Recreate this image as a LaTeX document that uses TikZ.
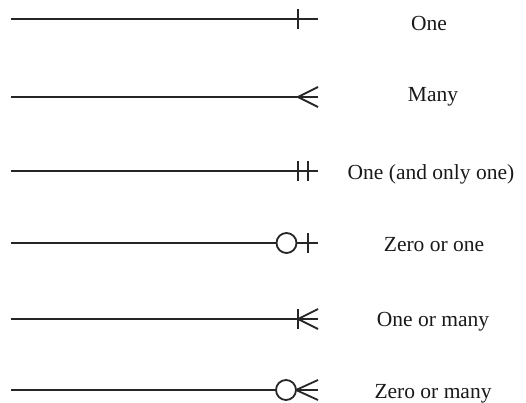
\documentclass[tikz,border=0pt]{standalone}
\usepackage{fontspec}
\setmainfont{Liberation Serif}
\begin{document}
\begin{tikzpicture}[x=1pt,y=-1pt,
  link/.style={line width=1.8pt, color=black!85},
  ring/.style={link, fill=white},
  label/.style={font=\fontsize{21.5}{26}\selectfont, anchor=base, text=black!90, inner sep=0pt}]
\useasboundingbox (0,0) rectangle (526,403);

% One
\coordinate (a1) at (11,19);   \coordinate (b1) at (318,19);
\draw[link] (a1) -- (b1);
\draw[link] ([shift={(-20,-10)}]b1) -- ([shift={(-20,10)}]b1);
\node[label] (t1) at (429,31) {One};

% Many
\coordinate (a2) at (11,97); \coordinate (b2) at (318,97);
\draw[link] (a2) -- (b2);
\draw[link] ([shift={(0,-10)}]b2) -- ([shift={(-20,0)}]b2) -- ([shift={(0,10)}]b2);
\node[label] (t2) at (433,102) {Many};

% One (and only one)
\coordinate (a3) at (11,171);  \coordinate (b3) at (318,171);
\draw[link] (a3) -- (b3);
\draw[link] ([shift={(-20,-10)}]b3) -- ([shift={(-20,10)}]b3);
\draw[link] ([shift={(-10,-10)}]b3) -- ([shift={(-10,10)}]b3);
\node[label] (t3) at (431,179) {One (and only one)};

% Zero or one
\coordinate (a4) at (11,243);  \coordinate (b4) at (318,243);
\draw[link] (a4) -- (b4);
\draw[link] ([shift={(-10,-10)}]b4) -- ([shift={(-10,10)}]b4);
\draw[ring] ([shift={(-31.5,0)}]b4) circle[radius=10];
\node[label] (t4) at (434,251.5) {Zero or one};

% One or many
\coordinate (a5) at (11,319);  \coordinate (b5) at (318,319);
\draw[link] (a5) -- (b5);
\draw[link] ([shift={(-20,-10)}]b5) -- ([shift={(-20,10)}]b5);
\draw[link] ([shift={(0,-10)}]b5) -- ([shift={(-20,0)}]b5) -- ([shift={(0,10)}]b5);
\node[label] (t5) at (433,326) {One or many};

% Zero or many
\coordinate (a6) at (11,390);  \coordinate (b6) at (318,390);
\draw[link] (a6) -- (b6);
\draw[link] ([shift={(0,-10)}]b6) -- ([shift={(-22,0)}]b6) -- ([shift={(0,10)}]b6);
\draw[ring] ([shift={(-32,0)}]b6) circle[radius=10];
\node[label] (t6) at (433,398) {Zero or many};
\end{tikzpicture}
\end{document}
